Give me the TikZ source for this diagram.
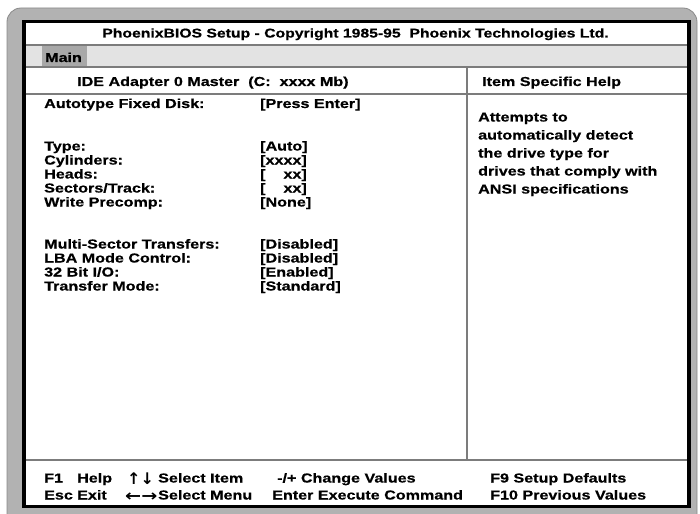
\documentclass[tikz,border=0pt]{standalone}
\usepackage{fontspec}
\newfontfamily\biosfont{Liberation Sans}[FakeStretch=1.24, BoldFeatures={FakeBold=0.6}]
\newfontfamily\arrowfont{DejaVu Sans}
\newfontfamily\arrowwidefont{DejaVu Sans}[FakeStretch=1.2]

\definecolor{bezel}{HTML}{B2B2B2}
\definecolor{bezeledge}{HTML}{8A8A8A}
\definecolor{menubar}{HTML}{E3E3E3}
\definecolor{maintab}{HTML}{A8A8A8}
\definecolor{rule}{HTML}{7C7C7C}

\tikzset{
  txt/.style       = {anchor=base west, inner sep=0pt,
                      font=\biosfont\bfseries\fontsize{13}{16}\selectfont},
  arrowtxt/.style  = {anchor=base west, inner sep=0pt,
                      font=\arrowfont\bfseries\fontsize{16}{18}\selectfont},
  arrowwide/.style = {anchor=base west, inner sep=0pt,
                      font=\arrowwidefont\bfseries\fontsize{16}{18}\selectfont},
  sep/.style       = {draw=rule, line width=1.3pt}
}

\begin{document}
\begin{tikzpicture}[x=1pt, y=-1pt]
  \useasboundingbox (0,0) rectangle (700,513);
  \filldraw[fill=bezel, draw=bezeledge, line width=0.8pt, rounded corners=14pt]
    (7,8) rectangle (697,535);
  \fill[black]   (22,20)   rectangle (691,508);
  \fill[white]   (25.5,23) rectangle (687,504.5);
  \fill[menubar] (25.5,45) rectangle (687,67);
  \fill[maintab] (42,46)   rectangle (87,67);
  \draw[sep] (25.5,45)  -- (687,45);
  \draw[sep] (25.5,67)  -- (687,67);
  \draw[sep] (25.5,94)  -- (687,94);
  \draw[sep] (25.5,460) -- (687,460);
  \draw[sep] (467,67)   -- (467,460);

  \node[txt, anchor=base, font=\biosfont\bfseries\fontsize{12.7}{16}\selectfont] (title)
    at (355.5, 37.5) {PhoenixBIOS Setup - Copyright 1985-95\ \ Phoenix Technologies Ltd.};
  \node[txt] (main)     at ( 45, 62) {Main};
  \node[txt] (ideHdr)   at ( 77, 86) {IDE Adapter 0 Master\ \ (C:\ \ xxxx Mb)};
  \node[txt] (helpHdr)  at (482, 86) {Item Specific Help};

  \node[txt] (autotype)    at ( 44, 108) {Autotype Fixed Disk:};
  \node[txt] (type)        at ( 44, 150.5) {Type:};
  \node[txt] (cylinders)   at ( 44, 164.5) {Cylinders:};
  \node[txt] (heads)       at ( 44, 178.5) {Heads:};
  \node[txt] (sectors)     at ( 44, 192.5) {Sectors/Track:};
  \node[txt] (precomp)     at ( 44, 206.5) {Write Precomp:};
  \node[txt] (multisector) at ( 44, 248.5) {Multi-Sector Transfers:};
  \node[txt] (lba)         at ( 44, 262.5) {LBA Mode Control:};
  \node[txt] (bit32)       at ( 44, 276.5) {32 Bit I/O:};
  \node[txt] (xfermode)    at ( 44, 290.5) {Transfer Mode:};

  \node[txt] (autotypeVal)    at (260, 108) {[Press Enter]};
  \node[txt] (typeVal)        at (260, 150.5) {[Auto]};
  \node[txt] (cylindersVal)   at (260, 164.5) {[xxxx]};
  \node[txt] (headsVal)       at (260, 178.5) {[\phantom{xx}xx]};
  \node[txt] (sectorsVal)     at (260, 192.5) {[\phantom{xx}xx]};
  \node[txt] (precompVal)     at (260, 206.5) {[None]};
  \node[txt] (multisectorVal) at (260, 248.5) {[Disabled]};
  \node[txt] (lbaVal)         at (260, 262.5) {[Disabled]};
  \node[txt] (bit32Val)       at (260, 276.5) {[Enabled]};
  \node[txt] (xfermodeVal)    at (260, 290.5) {[Standard]};

  \node[txt] (helpA) at (478, 121.5) {Attempts to};
  \node[txt] (helpB) at (478, 139.5) {automatically detect};
  \node[txt] (helpC) at (478, 157.5) {the drive type for};
  \node[txt] (helpD) at (478, 175.5) {drives that comply with};
  \node[txt] (helpE) at (478, 193.5) {ANSI specifications};

  \node[txt]       (keyF1)     at ( 44, 482.5) {F1};
  \node[txt]       (keyHelp)   at ( 77, 482.5) {Help};
  \node[arrowtxt]  (keyUpDown) at (127, 484) {↑↓};
  \node[txt]       (keyItem)   at (158, 482.5) {Select Item};
  \node[txt]       (keyChange) at (277, 482.5) {-/+ Change Values};
  \node[txt]       (keyF9)     at (490, 482.5) {F9 Setup Defaults};
  \node[txt]       (keyEsc)    at ( 44, 499.5) {Esc};
  \node[txt]       (keyExit)   at ( 77, 499.5) {Exit};
  \node[arrowwide] (keyLR)     at (125, 501) {←→};
  \node[txt]       (keyMenu)   at (158, 499.5) {Select Menu};
  \node[txt]       (keyEnter)  at (272, 499.5) {Enter Execute Command};
  \node[txt]       (keyF10)    at (490, 499.5) {F10 Previous Values};
\end{tikzpicture}
\end{document}
